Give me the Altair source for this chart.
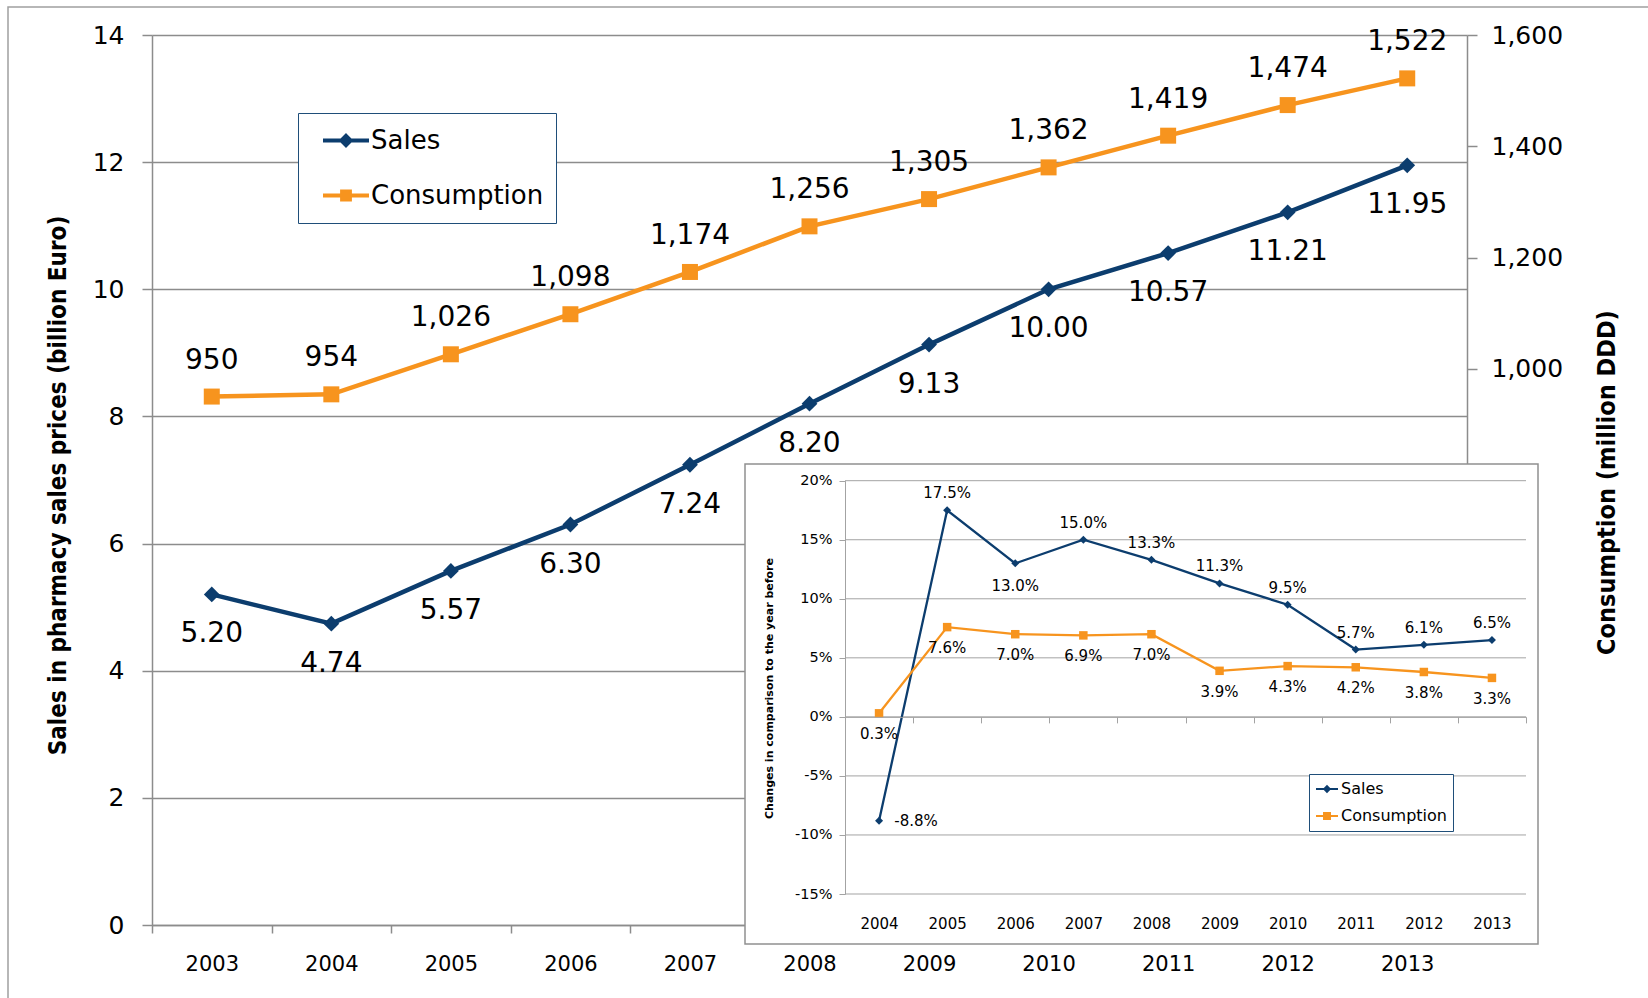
import altair as alt
import pandas as pd

# ---- data -------------------------------------------------------------
years = ["2003", "2004", "2005", "2006", "2007", "2008",
         "2009", "2010", "2011", "2012", "2013"]
sales = [5.20, 4.74, 5.57, 6.30, 7.24, 8.20, 9.13, 10.00, 10.57, 11.21, 11.95]
consumption = [950, 954, 1026, 1098, 1174, 1256, 1305, 1362, 1419, 1474, 1522]

change_years = ["2004", "2005", "2006", "2007", "2008",
                "2009", "2010", "2011", "2012", "2013"]
sales_change = [-8.8, 17.5, 13.0, 15.0, 13.3, 11.3, 9.5, 5.7, 6.1, 6.5]
consumption_change = [0.3, 7.6, 7.0, 6.9, 7.0, 3.9, 4.3, 4.2, 3.8, 3.3]

series = ["Sales", "Consumption"]
sales_ticks = [0, 2, 4, 6, 8, 10, 12, 14]
consumption_ticks = [0, 200, 400, 600, 800, 1000, 1200, 1400, 1600]
change_ticks = [-15, -10, -5, 0, 5, 10, 15, 20]

main_df = pd.DataFrame({"year": years, "sales": sales, "consumption": consumption})
inset_df = pd.DataFrame({"year": change_years, "sales": sales_change,
                         "consumption": consumption_change})
series_df = pd.DataFrame({"series": series})
grid_df = pd.DataFrame({"v": change_ticks})
one_row = pd.DataFrame({"k": [0]})

# ---- styling ------------------------------------------------------------
NAVY = "#0C3D6E"
ORANGE = "#F7941E"
GRID = "#8C8C8C"
GRID2 = "#A3A3A3"
FONT = "DejaVu Sans"
TITLE_FONT = "DejaVu Sans Condensed, DejaVu Sans, sans-serif"

W, H = 1315, 890                     # main plot area
INSET_X0, INSET_X1 = 693, 1374       # inset plot area (inside main plot coords)
INSET_Y0, INSET_Y1 = 859, 445.7
INSET_ZERO = INSET_Y0 - 15 * (INSET_Y0 - INSET_Y1) / 35

# ---- scales -------------------------------------------------------------
x_main = alt.Scale(type="band", domain=years, paddingInner=0, paddingOuter=0)
y_sales = alt.Scale(domain=[0, 14], nice=False)
y_cons = alt.Scale(domain=[0, 1600], nice=False)
x_inset = alt.Scale(type="band", domain=change_years, paddingInner=0,
                    paddingOuter=0, range=[INSET_X0, INSET_X1])
y_inset = alt.Scale(domain=[-15, 20], nice=False, zero=False,
                    range=[INSET_Y0, INSET_Y1])


def xm(axis=None):
    return alt.X("year:N", scale=x_main, bandPosition=0.5, axis=axis)


def xi(axis=None):
    return alt.X("year:N", scale=x_inset, bandPosition=0.5, axis=axis)


# ---- outer frame ----------------------------------------------------------
frame = alt.Chart(one_row).mark_rect(fillOpacity=0, stroke="#A0A0A0", strokeWidth=1.5).encode(
    x=alt.value(-144), x2=alt.value(1520), y=alt.value(-28), y2=alt.value(990)
)

# ---- main chart: sales (left axis) ------------------------------------------
x_axis_main = alt.Axis(
    title=None, tickBand="extent", tickSize=8, tickColor=GRID, tickWidth=1.5,
    domainColor=GRID, domainWidth=1.5, labelFont=FONT, labelFontSize=21,
    labelColor="black", labelPadding=20, labelAngle=0, grid=False, zindex=0,
)
y_axis_sales = alt.Axis(
    orient="left", values=sales_ticks, grid=True, gridColor=GRID, gridWidth=1.5,
    tickSize=10, tickColor=GRID, tickWidth=1.5, domainColor=GRID, domainWidth=1.5,
    labelFont=FONT, labelFontSize=25, labelColor="black", labelPadding=18,
    title="Sales in pharmacy sales prices  (billion Euro)", titleFont=TITLE_FONT,
    titleFontSize=24, titleFontWeight="bold", titleColor="black",
    titleX=-94, titleY=450, titleAngle=270, titleAlign="center",
    titleBaseline="middle", zindex=0,
)
y_axis_cons = alt.Axis(
    orient="right", values=consumption_ticks, format=",.0f", grid=False,
    tickSize=10, tickColor=GRID, tickWidth=1.5, domainColor=GRID, domainWidth=1.5,
    labelFont=FONT, labelFontSize=25, labelColor="black", labelPadding=14,
    title="Consumption (million DDD)", titleFont=TITLE_FONT, titleFontSize=25,
    titleFontWeight="bold", titleColor="black", titleX=139, titleY=447,
    titleAngle=270, titleAlign="center", titleBaseline="middle", zindex=0,
)

main_base = alt.Chart(main_df)
sales_line = main_base.mark_line(color=NAVY, strokeWidth=4.5).encode(
    x=xm(x_axis_main), y=alt.Y("sales:Q", scale=y_sales, axis=y_axis_sales)
)
sales_pts = main_base.mark_point(filled=True, shape="diamond", size=250,
                                 color=NAVY, opacity=1).encode(
    x=xm(), y=alt.Y("sales:Q", scale=y_sales, axis=None)
)
sales_lbl = main_base.mark_text(font=FONT, fontSize=28, color="black",
                                baseline="middle", dy=40).encode(
    x=xm(), y=alt.Y("sales:Q", scale=y_sales, axis=None),
    text=alt.Text("sales:Q", format=".2f"),
)

cons_line = main_base.mark_line(color=ORANGE, strokeWidth=4.5).encode(
    x=xm(), y=alt.Y("consumption:Q", scale=y_cons, axis=y_axis_cons)
)
cons_pts = main_base.mark_point(filled=True, shape="square", size=256,
                                color=ORANGE, opacity=1).encode(
    x=xm(), y=alt.Y("consumption:Q", scale=y_cons, axis=None)
)
cons_lbl = main_base.mark_text(font=FONT, fontSize=28, color="black",
                               baseline="middle", dy=-36).encode(
    x=xm(), y=alt.Y("consumption:Q", scale=y_cons, axis=None),
    text=alt.Text("consumption:Q", format=",.0f"),
)


def legend_layer(props, shapes):
    """Invisible points whose merged color/stroke/shape legend draws line+marker keys."""
    col = alt.Scale(domain=series, range=[NAVY, ORANGE])
    shp = alt.Scale(domain=series, range=shapes)
    return alt.Chart(series_df).mark_point(filled=True, opacity=0).encode(
        color=alt.Color("series:N", scale=col, legend=alt.Legend(**props)),
        stroke=alt.Stroke("series:N", scale=col, legend=alt.Legend(**props)),
        shape=alt.Shape("series:N", scale=shp, legend=alt.Legend(**props)),
    )


main_legend = legend_layer(
    dict(orient="none", legendX=146, legendY=78, title=None, direction="vertical",
         fillColor="white", strokeColor="#1F4E79", padding=12.5, clipHeight=30,
         rowPadding=25, symbolSize=2116, symbolStrokeWidth=4, symbolOffset=10.5,
         symbolOpacity=1, labelOffset=0, labelFont=FONT, labelFontSize=26,
         labelColor="black", labelLimit=400, labelExpr="datum.label + ' '"),
    ["M-1,0H1M0,-0.2L0.2,0L0,0.2L-0.2,0Z",
     "M-1,0H1M-0.17,-0.17H0.17V0.17H-0.17Z"],
)

# ---- inset: year-on-year changes ---------------------------------------------
inset_bg = alt.Chart(one_row).mark_rect(fill="white", stroke="#909090", strokeWidth=1.5).encode(
    x=alt.value(593), x2=alt.value(1386), y=alt.value(429), y2=alt.value(909)
)
inset_grid = alt.Chart(grid_df).mark_rule(color=GRID2, strokeWidth=1).encode(
    y=alt.Y("v:Q", scale=y_inset, axis=None),
    x=alt.value(INSET_X0), x2=alt.value(INSET_X1),
)

x_axis_inset = alt.Axis(
    orient="bottom", offset=-(H - INSET_ZERO), title=None, tickBand="extent",
    tickSize=6, tickColor=GRID2, domainColor=GRID2, labelFont=FONT,
    labelFontSize=15, labelColor="black", labelPadding=194, labelAngle=0,
    grid=False, zindex=1,
)
y_axis_inset = alt.Axis(
    orient="left", offset=-INSET_X0, values=change_ticks,
    labelExpr="datum.value + '%'", tickSize=6, tickColor=GRID2, domainColor=GRID2,
    labelFont=FONT, labelFontSize=14.5, labelColor="black", labelPadding=7,
    grid=False, title="Changes in comparison  to the year before", titleFont=FONT,
    titleFontSize=11, titleFontWeight="bold", titleColor="black", titleX=-76,
    titleY=653, titleAngle=270, titleAlign="center", titleBaseline="middle",
    zindex=1,
)

pct = "(datum.{f} < 0 ? '-' : '') + format(abs(datum.{f}), '.1f') + '%'"
inset_base = alt.Chart(inset_df).transform_calculate(
    s_lbl=pct.format(f="sales"),
    c_lbl=pct.format(f="consumption"),
)
inset_sales_line = inset_base.mark_line(color=NAVY, strokeWidth=2.3).encode(
    x=xi(x_axis_inset), y=alt.Y("sales:Q", scale=y_inset, axis=y_axis_inset)
)
inset_sales_pts = inset_base.mark_point(filled=True, shape="diamond", size=64,
                                        color=NAVY, opacity=1).encode(
    x=xi(), y=alt.Y("sales:Q", scale=y_inset, axis=None)
)


def inset_text(field, cond, dx, dy):
    return inset_base.transform_filter(cond).mark_text(
        font=FONT, fontSize=15, color="black", baseline="middle", dx=dx, dy=dy
    ).encode(x=xi(), y=alt.Y(f"{field}:Q", scale=y_inset, axis=None),
             text=("s_lbl:N" if field == "sales" else "c_lbl:N"))


inset_sales_above = inset_text("sales", "datum.year != '2004' && datum.year != '2006'", 0, -17)
inset_sales_below = inset_text("sales", "datum.year == '2006'", 0, 23)
inset_sales_right = inset_text("sales", "datum.year == '2004'", 37, 0)

inset_cons_line = inset_base.mark_line(color=ORANGE, strokeWidth=2.3).encode(
    x=xi(), y=alt.Y("consumption:Q", scale=y_inset, axis=None)
)
inset_cons_pts = inset_base.mark_point(filled=True, shape="square", size=72,
                                       color=ORANGE, opacity=1).encode(
    x=xi(), y=alt.Y("consumption:Q", scale=y_inset, axis=None)
)
inset_cons_below = inset_text("consumption", "true", 0, 21)

inset_legend = legend_layer(
    dict(orient="none", legendX=1157, legendY=739, title=None, direction="vertical",
         fillColor="white", strokeColor="#1F4E79", padding=6, clipHeight=18,
         rowPadding=9, symbolSize=484, symbolStrokeWidth=2, symbolOffset=0,
         symbolOpacity=1, labelOffset=2, labelFont=FONT, labelFontSize=16,
         labelColor="black", labelLimit=300),
    ["M-1,0H1M0,-0.25L0.25,0L0,0.25L-0.25,0Z",
     "M-1,0H1M-0.27,-0.27H0.27V0.27H-0.27Z"],
)

chart = alt.layer(
    frame,
    sales_line, sales_pts, sales_lbl,
    cons_line, cons_pts, cons_lbl,
    main_legend,
    inset_bg, inset_grid,
    inset_sales_line, inset_cons_line,
    inset_sales_pts, inset_cons_pts,
    inset_sales_above, inset_sales_below, inset_sales_right, inset_cons_below,
    inset_legend,
).resolve_scale(
    x="independent", y="independent", color="independent",
    stroke="independent", shape="independent",
).properties(
    width=W, height=H,
    padding={"left": 152, "top": 35, "right": 181, "bottom": 73},
    autosize=alt.AutoSizeParams(type="none"),
    background="white",
).configure_view(strokeWidth=0)

chart.save("out.html", embed_options={"renderer": "svg", "actions": False})
